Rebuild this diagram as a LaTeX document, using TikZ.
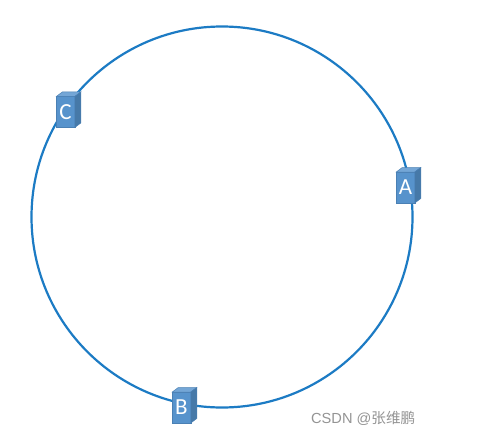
\documentclass[tikz,border=0pt]{standalone}
\usepackage{fontspec}
\setmainfont{Carlito}
\newfontfamily\wmfont{Liberation Sans}
\newfontfamily\cjk{Noto Sans CJK SC}
\definecolor{ringblue}{HTML}{1C7BC4}
\definecolor{cubefront}{HTML}{5793CC}
\definecolor{cubetop}{HTML}{74A6D6}
\definecolor{cubeside}{HTML}{4679A8}
\definecolor{cubeedge}{HTML}{4A80B4}
\tikzset{
  ring/.style={draw=ringblue,line width=2.2pt},
  cubeface/.style={inner sep=0pt,outer sep=0pt,minimum width=18.5pt,minimum height=31pt,fill=cubefront,draw=cubeedge,line width=0.5pt,text=white,font=\fontsize{23}{23}\selectfont},
  topface/.style={fill=cubetop,draw=cubeedge,line width=0.5pt},
  sideface/.style={fill=cubeside,draw=cubeedge,line width=0.5pt},
  mark text/.style={text=black!42,font=\wmfont\fontsize{14.6}{15}\selectfont,anchor=base west,inner sep=0pt}
}
\newcommand{\cubebox}[4]{%
  \node[cubeface] (#1) at (#2,#3) {#4};
  \filldraw[topface] (#1.north west) -- ++(6pt,4.5pt) -- ++(18.5pt,0pt) -- (#1.north east) -- cycle;
  \filldraw[sideface] (#1.north east) -- ++(6pt,4.5pt) -- ++(0pt,-31pt) -- (#1.south east) -- cycle;
}
\begin{document}
\begin{tikzpicture}[x=1pt,y=-1pt]
\useasboundingbox (0,0) rectangle (484,425);
\fill[white] (0,0) rectangle (484,425);
\node[ring,circle,minimum size=381pt,inner sep=0pt,outer sep=0pt] (ringnode) at (222,217) {};
\cubebox{a}{405.5}{187.5}{A}
\cubebox{b}{181.5}{407.5}{B}
\cubebox{c}{65.5}{112}{C}
\node[mark text] (wm) at (311,423.2) {CSDN @{\cjk 张维鹏}};
\end{tikzpicture}
\end{document}
